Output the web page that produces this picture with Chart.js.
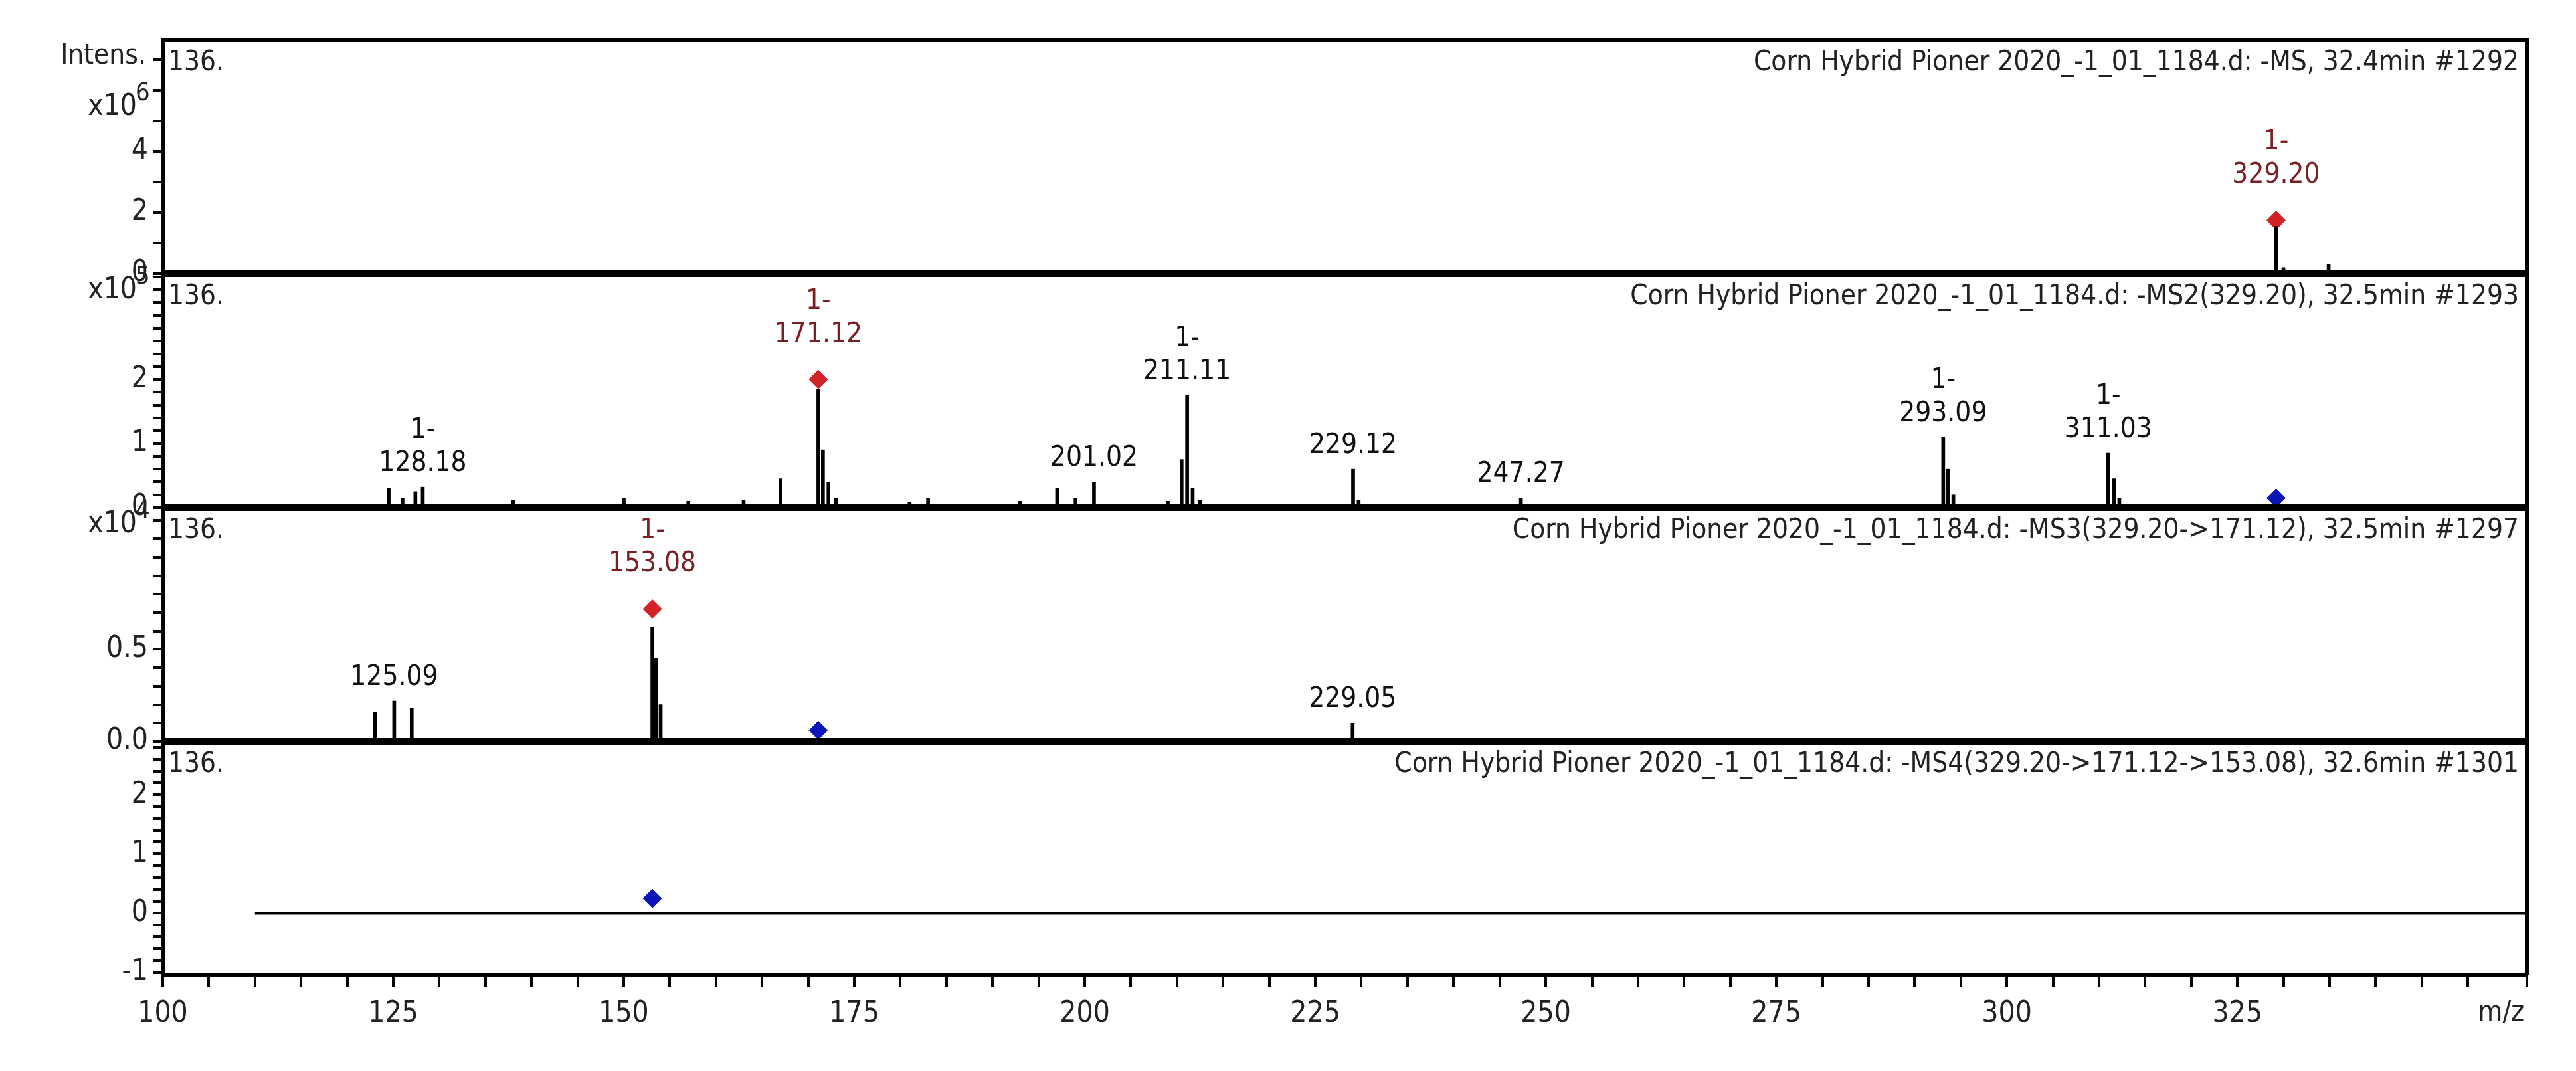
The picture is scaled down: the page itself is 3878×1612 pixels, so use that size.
<!DOCTYPE html>
<html><head><meta charset="utf-8">
<script src="https://cdn.jsdelivr.net/npm/chart.js@4"></script>
<style>body{margin:0;background:#fff}#w{width:3878px;height:1612px}</style>
</head><body><div id="w"><canvas id="c" width="3878" height="1612"></canvas></div>
<script>
// MS (x10^6)
const ms1Mz = [329.2, 330.0, 334.9, 336.0];
const ms1Int = [1.55, 0.2, 0.3, 0.1];
// MS2 (x10^5)
const ms2Mz = [124.5, 126.0, 127.4, 128.2, 138.0, 150.0, 157.0, 163.0, 167.0, 171.1, 171.6, 172.2, 173.0, 181.0, 183.0, 193.0, 197.0, 199.0, 201.0, 209.0, 210.5, 211.1, 211.7, 212.5, 229.1, 229.7, 247.3, 293.1, 293.6, 294.2, 311.0, 311.6, 312.2];
const ms2Int = [0.3, 0.15, 0.25, 0.32, 0.12, 0.15, 0.1, 0.12, 0.45, 1.85, 0.9, 0.4, 0.15, 0.08, 0.15, 0.1, 0.3, 0.15, 0.4, 0.1, 0.75, 1.75, 0.3, 0.12, 0.6, 0.12, 0.15, 1.1, 0.6, 0.2, 0.85, 0.45, 0.15];
// MS3 (x10^4)
const ms3Mz = [123.0, 125.1, 127.0, 153.1, 153.5, 154.0, 229.05];
const ms3Int = [0.16, 0.22, 0.18, 0.62, 0.45, 0.2, 0.1];
// MS4 baseline
const ms4LineMz = [110, 356.4];
const ms4LineInt = [0, 0];
// precursor markers
const redMarkers = [{panel:'y1', x:329.2, y:1.75}, {panel:'y2', x:171.1, y:2.0}, {panel:'y3', x:153.1, y:0.72}];
const blueMarkers = [{panel:'y2', x:329.2, y:0.15}, {panel:'y3', x:171.1, y:0.06}, {panel:'y4', x:153.1, y:0.25}];
// peak labels
const peakLabels = [
 {panel:'y1', x:329.2, y:1.75, top:'1-', text:'329.20', red:true, gap:46},
 {panel:'y2', x:128.2, y:0.32, top:'1-', text:'128.18'},
 {panel:'y2', x:171.1, y:2.0, top:'1-', text:'171.12', red:true, gap:46},
 {panel:'y2', x:201.0, y:0.4, top:'', text:'201.02'},
 {panel:'y2', x:211.1, y:1.75, top:'1-', text:'211.11'},
 {panel:'y2', x:229.1, y:0.6, top:'', text:'229.12'},
 {panel:'y2', x:247.3, y:0.15, top:'', text:'247.27'},
 {panel:'y2', x:293.1, y:1.1, top:'1-', text:'293.09'},
 {panel:'y2', x:311.0, y:0.85, top:'1-', text:'311.03'},
 {panel:'y3', x:125.1, y:0.22, top:'', text:'125.09'},
 {panel:'y3', x:153.1, y:0.72, top:'1-', text:'153.08', red:true, gap:46},
 {panel:'y3', x:229.05, y:0.1, top:'', text:'229.05'}
];
const titles = {
 y1:'Corn Hybrid Pioner 2020_-1_01_1184.d: -MS, 32.4min #1292',
 y2:'Corn Hybrid Pioner 2020_-1_01_1184.d: -MS2(329.20), 32.5min #1293',
 y3:'Corn Hybrid Pioner 2020_-1_01_1184.d: -MS3(329.20->171.12), 32.5min #1297',
 y4:'Corn Hybrid Pioner 2020_-1_01_1184.d: -MS4(329.20->171.12->153.08), 32.6min #1301'
};
const exps = {y1:'6', y2:'5', y3:'4'};
const xTickLabels = [100,125,150,175,200,225,250,275,300,325];

const FONT = '"DejaVu Sans Condensed", "Liberation Sans Narrow", sans-serif';
const pts = (xs, ys) => xs.map((x,i)=>({x, y:ys[i]}));

function yAxis(min, max, step, first, majors, fmt){
  return {
    type:'linear', position:'left', stack:'ms', stackWeight:1, min, max,
    afterFit: s => { s.width = 245; },
    afterBuildTicks: s => {
      const t = []; for(let k=0; first+k*step <= max+1e-9; k++){ t.push({value: Math.round((first+k*step)*1000)/1000}); }
      s.ticks = t;
    },
    border:{display:true, color:'#000', width:6},
    grid:{drawOnChartArea:false, drawTicks:true, tickLength:14, color:'#000', lineWidth:4},
    ticks:{autoSkip:false, color:'#222', padding:8, font:{family:FONT, size:44},
      callback:(v)=>{ for(const m of majors){ if(Math.abs(v-m)<1e-6) return fmt(m);} return ''; }}
  };
}

const bar = (data, axis) => ({type:'bar', data, yAxisID:axis, xAxisID:'x', backgroundColor:'#000', barThickness:5, grouped:false});
const mark = (arr, axis, color) => ({type:'scatter', data:arr.filter(m=>m.panel===axis).map(m=>({x:m.x,y:m.y})), yAxisID:axis, pointStyle:'rectRot', pointRadius:14, backgroundColor:color, borderColor:color});

const datasets = [
  bar(pts(ms1Mz, ms1Int), 'y1'),
  bar(pts(ms2Mz, ms2Int), 'y2'),
  bar(pts(ms3Mz, ms3Int), 'y3'),
  {type:'line', data:pts(ms4LineMz, ms4LineInt), yAxisID:'y4', borderColor:'#000', borderWidth:4, pointRadius:0},
];
for(const a of ['y1','y2','y3']) datasets.push(mark(redMarkers, a, '#d42027'));
for(const a of ['y2','y3','y4']) datasets.push(mark(blueMarkers, a, '#0a16b8'));

const deco = {
  id:'deco',
  afterDatasetsDraw(chart){
    const ctx = chart.ctx, x = chart.scales.x, ca = chart.chartArea;
    ctx.save();
    ctx.strokeStyle='#000'; ctx.lineWidth=6;
    ctx.beginPath(); ctx.moveTo(ca.left, ca.top); ctx.lineTo(ca.right, ca.top); ctx.lineTo(ca.right, ca.bottom); ctx.stroke();
    for(const a of ['y1','y2','y3']){
      const s = chart.scales[a];
      ctx.lineWidth=10; ctx.beginPath(); ctx.moveTo(ca.left, s.bottom); ctx.lineTo(ca.right, s.bottom); ctx.stroke();
    }
    ctx.textBaseline='top';
    for(const a of ['y1','y2','y3','y4']){
      const s = chart.scales[a];
      ctx.fillStyle='#222'; ctx.font='42px '+FONT;
      ctx.textAlign='left'; ctx.fillText('136.', ca.left+8, s.top+14);
      ctx.textAlign='right'; ctx.fillText(titles[a], ca.right-12, s.top+14);
    }
    ctx.textAlign='right'; ctx.fillStyle='#222';
    ctx.font='42px '+FONT; ctx.fillText('Intens.', 220, chart.scales.y1.top+4);
    for(const a of ['y1','y2','y3']){
      const s = chart.scales[a];
      const yy = a==='y1' ? s.top+66 : s.top-10;
      ctx.font='44px '+FONT; ctx.textAlign='right'; ctx.fillText('x10', 206, yy+14);
      ctx.font='38px '+FONT; ctx.textAlign='left'; ctx.fillText(exps[a], 204, yy-4);
    }
    ctx.textAlign='center'; ctx.textBaseline='bottom'; ctx.font='42px '+FONT;
    for(const p of peakLabels){
      const px = x.getPixelForValue(p.x), py = chart.scales[p.panel].getPixelForValue(p.y) - (p.gap||14);
      ctx.fillStyle = p.red ? '#7a1f24' : '#111';
      ctx.fillText(p.text, px, py);
      if(p.top) ctx.fillText(p.top, px, py-50);
    }
    ctx.textAlign='right'; ctx.textBaseline='top'; ctx.fillStyle='#222'; ctx.font='42px '+FONT;
    ctx.fillText('m/z', 3800, ca.bottom+36);
    ctx.restore();
  }
};

new Chart(document.getElementById('c'), {
  data:{datasets},
  options:{
    responsive:false, animation:false, devicePixelRatio:1,
    layout:{padding:{left:0, top:60, right:74, bottom:0}},
    plugins:{legend:{display:false}, tooltip:{enabled:false}},
    scales:{
      x:{type:'linear', min:100, max:356.4, position:'bottom', offset:false,
        afterFit: s => { s.height = 144; },
        border:{display:true, color:'#000', width:6},
        grid:{drawOnChartArea:false, drawTicks:true, tickLength:18, color:'#000', lineWidth:4, offset:false},
        ticks:{stepSize:5, autoSkip:false, maxRotation:0, color:'#222', padding:14, font:{family:FONT, size:44},
          callback:v=> xTickLabels.includes(v) ? String(v) : ''}},
      y4: yAxis(-1.05, 2.9, 0.2, -1, [-1,0,1,2], m=>String(m)),
      y3: yAxis(0, 1.27, 0.1, 0, [0,0.5], m=>m.toFixed(1)),
      y2: yAxis(0, 3.65, 0.2, 0, [0,1,2], m=>String(m)),
      y1: yAxis(0, 7.65, 1, 0, [0,2,4], m=>String(m)),
    }
  },
  plugins:[deco]
});
</script></body></html>
